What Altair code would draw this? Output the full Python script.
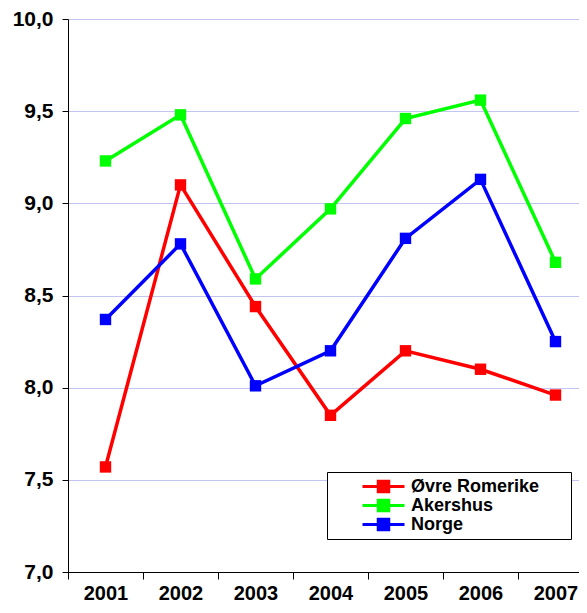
import altair as alt
import pandas as pd

years = ["2001", "2002", "2003", "2004", "2005", "2006", "2007"]
series_names = ["Øvre Romerike", "Akershus", "Norge"]
ovre_romerike = [7.57, 9.10, 8.44, 7.85, 8.20, 8.10, 7.96]
akershus = [9.23, 9.48, 8.59, 8.97, 9.46, 9.56, 8.68]
norge = [8.37, 8.78, 8.01, 8.20, 8.81, 9.13, 8.25]
colors = ["#ff0000", "#00ff00", "#0000ff"]
y_ticks = [7.0, 7.5, 8.0, 8.5, 9.0, 9.5, 10.0]

rows = []
for name, vals in zip(series_names, [ovre_romerike, akershus, norge]):
    for yr, v in zip(years, vals):
        rows.append({"year": yr, "value": v, "series": name})
df = pd.DataFrame(rows)

font = "Liberation Sans"

x = alt.X("year:N", sort=years, title=None,
          scale=alt.Scale(range=[0, 525], paddingInner=0, paddingOuter=0),
          axis=alt.Axis(labelAngle=0, tickBand="extent", grid=False,
                        domainColor="black", tickColor="black", tickSize=7,
                        labelFont=font, labelFontWeight="bold", labelFontSize=20,
                        labelColor="black", labelPadding=4))
y = alt.Y("value:Q", title=None,
          scale=alt.Scale(domain=[7, 10], nice=False, zero=False),
          axis=alt.Axis(values=y_ticks, grid=True, gridColor="#c4c4f2", gridWidth=1,
                        domainColor="black", tickColor="black", tickSize=6,
                        labelFont=font, labelFontWeight="bold", labelFontSize=21,
                        labelColor="black", labelPadding=9,
                        labelExpr="replace(format(datum.value, '.1f'), '.', ',')"))
color = alt.Color("series:N", sort=series_names,
                  scale=alt.Scale(domain=series_names, range=colors),
                  legend=alt.Legend(title=None,
                                    orient="none", legendX=259, legendY=453,
                                    direction="vertical",
                                    symbolType="M-1,0H1M-0.25,-0.25H0.25V0.25H-0.25Z",
                                    symbolSize=1764, symbolStrokeWidth=3,
                                    clipHeight=19,
                                    labelFont=font, labelFontWeight="bold", labelFontSize=18,
                                    labelColor="black", labelOffset=5, labelLimit=300,
                                    labelExpr="datum.label + '\u2800\u2800'",
                                    symbolOffset=29,
                                    rowPadding=0, strokeColor="black", fillColor="white",
                                    padding=5, offset=0))

lines = alt.Chart(df).mark_line(strokeWidth=3.5).encode(x=x, y=y, color=color)
points = alt.Chart(df).mark_point(filled=True, shape="square", size=130, opacity=1).encode(
    x=x, y=y, color=color)

chart = alt.layer(lines, points).properties(
    width=511, height=553,
    autosize=alt.AutoSizeParams(type="none"),
    padding={"left": 60, "top": 11, "right": 0, "bottom": 33},
).configure_view(stroke=None)

chart.save("out.html", embed_options={"renderer": "svg", "actions": False})
